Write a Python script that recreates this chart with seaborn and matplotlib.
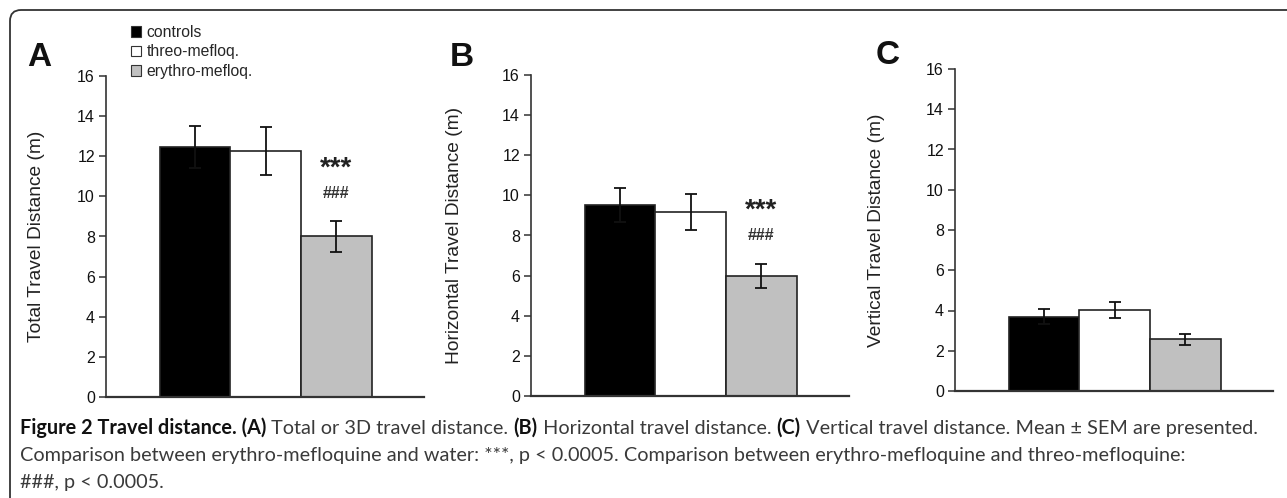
import matplotlib
matplotlib.use("Agg")
import matplotlib.pyplot as plt
import matplotlib.patches as mpatches
from matplotlib.transforms import IdentityTransform
import numpy as np
import pandas as pd
import seaborn as sns

# values (mean and SEM, metres)
groups = ["controls", "threo-mefloq.", "erythro-mefloq."]
total_mean = [12.45, 12.25, 8.0]
total_sem = [1.05, 1.2, 0.75]
horiz_mean = [9.5, 9.15, 6.0]
horiz_sem = [0.85, 0.9, 0.6]
vert_mean = [3.68, 4.03, 2.58]
vert_sem = [0.37, 0.4, 0.27]

panel_letters = ["A", "B", "C"]
ylabels = ["Total Travel Distance (m)", "Horizontal Travel Distance (m)",
           "Vertical Travel Distance (m)"]
yticks = list(range(0, 17, 2))
bar_colors = ["#000000", "#ffffff", "#c0c0c0"]

W, H = 1287, 498
sns.set_theme(style="ticks")
plt.rcParams["font.family"] = ["Liberation Sans", "DejaVu Sans"]

fig = plt.figure(figsize=(W / 100, H / 100), dpi=100)


def px_axes(left, right, bottom, top):
    return fig.add_axes([left / W, 1 - bottom / H, (right - left) / W, (bottom - top) / H])


panels = [
    (px_axes(106, 424, 397, 76), total_mean, total_sem, True, -0.192),
    (px_axes(531, 849, 396, 75), horiz_mean, horiz_sem, True, -0.214),
    (px_axes(955, 1273, 391, 69), vert_mean, vert_sem, False, -0.22),
]
letter_pos = [(39, 58), (462, 57), (888, 56)]

for i, (ax, means, sems, signif, lab_x) in enumerate(panels):
    df = pd.DataFrame({"group": groups, "value": means})
    sns.barplot(data=df, x="group", y="value", hue="group", palette=bar_colors,
                width=1, saturation=1, edgecolor="#222222", linewidth=1.2,
                errorbar=None, legend=False, ax=ax)
    ax.errorbar(np.arange(len(groups)), means, yerr=sems, fmt="none",
                ecolor="#111111", elinewidth=1.3, capsize=4.5, capthick=1.3, zorder=5)
    ax.set_xlim(-1.26, 3.24)
    ax.set_ylim(0, 16)
    ax.set_yticks(yticks)
    ax.set_xticks([])
    ax.set_xlabel("")
    ax.set_ylabel(ylabels[i], fontsize=13.8, color="#222222")
    ax.yaxis.set_label_coords(lab_x, 0.5)
    for s in ["top", "right"]:
        ax.spines[s].set_visible(False)
    ax.spines["left"].set_color("#333333")
    ax.spines["left"].set_linewidth(1.2)
    ax.spines["bottom"].set_color("#333333")
    ax.spines["bottom"].set_linewidth(1.6)
    ax.tick_params(axis="y", direction="out", length=5, width=1.1,
                   color="#333333", labelsize=11.5, labelcolor="#111111", pad=3)
    if signif:
        top = means[2] + sems[2]
        ax.annotate("***", (2, top), xytext=(0, 38), textcoords="offset points",
                    ha="center", va="center", fontsize=20, fontweight="bold",
                    color="#222222")
        ax.annotate("###", (2, top), xytext=(0, 20), textcoords="offset points",
                    ha="center", va="center", fontsize=11.5, fontweight="bold",
                    color="#333333")
    lx, ly = letter_pos[i]
    fig.text(lx / W, 1 - ly / H, panel_letters[i], fontsize=24, fontweight="bold",
             ha="center", va="center", color="#111111")

handles = [mpatches.Patch(facecolor=c, edgecolor="#333333", linewidth=0.8)
           for c in bar_colors]
fig.legend(handles, groups, loc="upper left", bbox_to_anchor=(131 / W, 1 - 25 / H),
           frameon=False, fontsize=11.3, handlelength=0.65, handleheight=0.65,
           handletextpad=0.35, labelspacing=0.28, borderpad=0, borderaxespad=0)

# rounded frame (only the top and left sides show)
frame = mpatches.FancyBboxPatch((10, -30), 1400, H - 10 + 30,
                                boxstyle="round,pad=0,rounding_size=11",
                                transform=IdentityTransform(), fill=False,
                                edgecolor="#333333", linewidth=1.3)
fig.add_artist(frame)

# caption with bold and regular runs
renderer = fig.canvas.get_renderer()
cap_font = ["Lato", "DejaVu Sans"]
line1 = [("Figure 2 Travel distance. (A)", "bold"),
         (" Total or 3D travel distance. ", "normal"), ("(B)", "bold"),
         (" Horizontal travel distance. ", "normal"), ("(C)", "bold"),
         (" Vertical travel distance. Mean ± SEM are presented.", "normal")]
line2 = [("Comparison between erythro-mefloquine and water: ***, p < 0.0005. "
          "Comparison between erythro-mefloquine and threo-mefloquine:", "normal")]
line3 = [("###, p < 0.0005.", "normal")]


def run_width(s, weight, size):
    t = fig.text(0, 0, "|" + s + "|", fontsize=size, fontweight=weight, family=cap_font)
    t2 = fig.text(0, 0, "||", fontsize=size, fontweight=weight, family=cap_font)
    w = t.get_window_extent(renderer).width - t2.get_window_extent(renderer).width
    t.remove()
    t2.remove()
    return w


base = 12
w1 = sum(run_width(s, wt, base) for s, wt in line1)
cap_size = base * 1235 / w1

for runs, yc in [(line1, 428), (line2, 455), (line3, 482)]:
    x = 20
    for s, wt in runs:
        fig.text(x / W, 1 - yc / H, s, fontsize=cap_size, fontweight=wt, family=cap_font,
                 ha="left", va="center",
                 color="#111111" if wt == "bold" else "#3a3a3a")
        x += run_width(s, wt, cap_size)

fig.savefig("out.png", dpi=100)
